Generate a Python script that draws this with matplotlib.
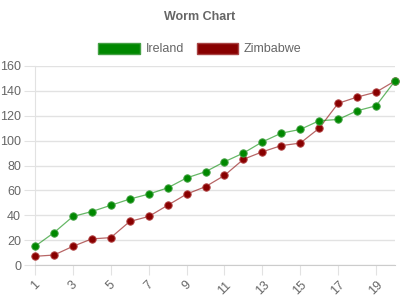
import matplotlib.pyplot as plt
from matplotlib.patches import Patch

overs = list(range(1, 21))
ireland = [15, 26, 39, 43, 48, 53, 57, 62, 70, 75, 83, 90, 99, 106, 109, 116, 117, 124, 128, 148]
zimbabwe = [7, 8, 15, 21, 22, 35, 39, 48, 57, 63, 72, 85, 91, 96, 98, 110, 130, 135, 139, 148]
tick_labels = [str(i) for i in range(1, 20, 2)]

plt.rcParams['font.family'] = ['Liberation Sans', 'DejaVu Sans']
grey = '#666666'

fig = plt.figure(figsize=(4, 3), dpi=100)
ax = fig.add_axes([35 / 400, 35 / 300, 360 / 400, 199 / 300])

# lines
ax.plot(overs, zimbabwe, color='#880000', alpha=0.6, lw=0.9, zorder=3, clip_on=False)
ax.plot(overs, ireland, color='#008800', alpha=0.6, lw=0.9, zorder=3, clip_on=False)
ax.plot(overs, zimbabwe, 'o', color='#880000', ms=5.3, mew=0.7, mec='#b04040', zorder=4, clip_on=False)
ax.plot(overs, ireland, 'o', color='#008800', ms=5.3, mew=0.7, mec='#40a040', zorder=4, clip_on=False)

ax.set_xlim(1, 20)
ax.set_ylim(0, 160)
ax.set_yticks(range(0, 161, 20))
ax.set_xticks(range(1, 20, 2))
ax.set_xticklabels(tick_labels, rotation=45, ha='center')

ax.grid(axis='y', color='#e2e2e2', lw=1)
ax.set_axisbelow(True)
for s in ['top', 'right']:
    ax.spines[s].set_visible(False)
ax.spines['left'].set_color('#e2e2e2')
ax.spines['bottom'].set_color('#cccccc')
ax.tick_params(axis='y', length=8, color='#e2e2e2', labelcolor=grey, labelsize=9, pad=2)
ax.tick_params(axis='x', length=7, color='#e2e2e2', labelcolor=grey, labelsize=9, pad=3)

fig.text(0.5, 1 - 17 / 300, 'Worm Chart', ha='center', va='center',
         fontsize=9, fontweight='bold', color=grey)

handles = [Patch(facecolor='#008800', edgecolor='#44a044', label='Ireland'),
           Patch(facecolor='#880000', edgecolor='#a84444', label='Zimbabwe')]
fig.legend(handles=handles, loc='center', bbox_to_anchor=(0.5, 1 - 49 / 300), ncol=2,
           frameon=False, fontsize=9, labelcolor=grey, handlelength=3.3, handleheight=1.0,
           handletextpad=0.5, columnspacing=1.0)

fig.savefig('out.png', dpi=100)
